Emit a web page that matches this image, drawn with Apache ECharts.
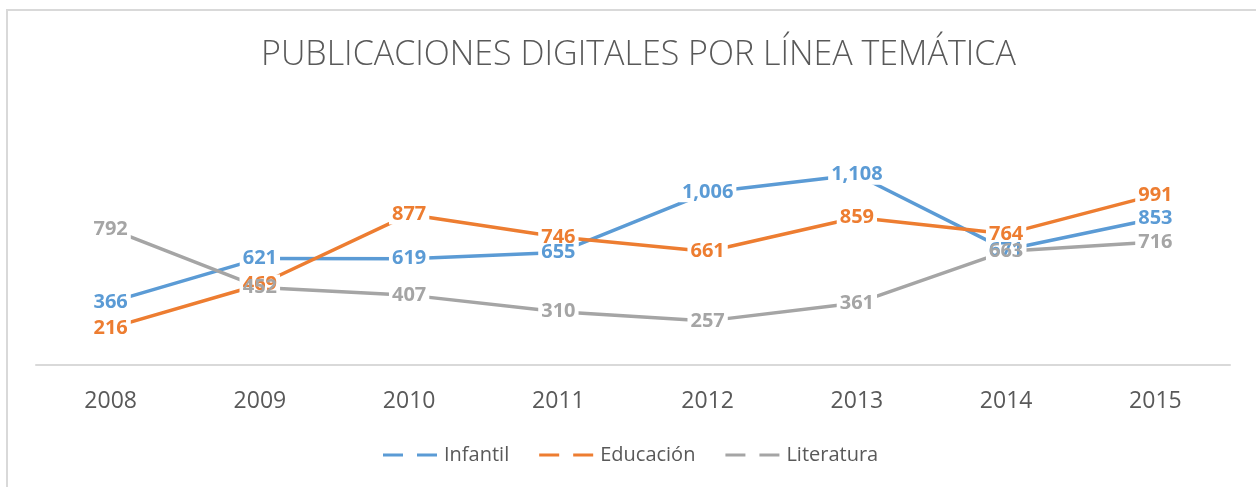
<!DOCTYPE html>
<html>
<head>
<meta charset="utf-8">
<script src="https://cdn.jsdelivr.net/npm/echarts@6/dist/echarts.min.js"></script>
<style>
html,body{margin:0;padding:0;background:#fff;overflow:hidden;}
#frame{position:absolute;left:6px;top:9px;width:1300px;height:600px;border:2px solid #d9d9d9;box-sizing:border-box;}
#chart{position:absolute;left:0;top:0;width:1256px;height:487px;}
</style>
</head>
<body>
<div id="frame"></div>
<div id="chart"></div>
<script>
var titleText = 'PUBLICACIONES DIGITALES POR LÍNEA TEMÁTICA';
var years = ['2008','2009','2010','2011','2012','2013','2014','2015'];
var infantil = [366, 621, 619, 655, 1006, 1108, 671, 853];
var educacion = [216, 469, 877, 746, 661, 859, 764, 991];
var literatura = [792, 452, 407, 310, 257, 361, 663, 716];
var seriesNames = ['Infantil', 'Educación', 'Literatura'];
var colors = ['#5B9BD5', '#ED7D31', '#A5A5A5'];
var seriesData = [infantil, educacion, literatura];

function fmt(v){ return String(v).replace(/\B(?=(\d{3})+(?!\d))/g, ','); }

var labelFont = {fontFamily: 'Open Sans', fontWeight: 'bold', fontSize: 20};

function lineSeries(i){
  return {
    name: seriesNames[i],
    type: 'line',
    data: seriesData[i],
    z: 2,
    symbol: 'none',
    itemStyle: {color: colors[i]},
    lineStyle: {color: colors[i], width: 3.5, cap: 'round'},
    emphasis: {disabled: true},
    label: {show: false}
  };
}
// white boxes behind labels (hide the lines under the text)
function boxSeries(i){
  return {
    name: seriesNames[i] + ' box',
    type: 'line',
    data: seriesData[i],
    z: 3,
    symbol: 'circle',
    symbolSize: 1,
    itemStyle: {color: 'rgba(255,255,255,0)'},
    lineStyle: {width: 0, opacity: 0},
    emphasis: {disabled: true},
    silent: true,
    label: Object.assign({
      show: true,
      position: 'inside',
      formatter: function(p){ return fmt(p.value); },
      color: 'rgba(255,255,255,0)',
      backgroundColor: '#fff',
      padding: [0, 3, 0, 3]
    }, labelFont)
  };
}
function textSeries(i){
  return {
    name: seriesNames[i] + ' text',
    type: 'line',
    data: seriesData[i],
    z: 4,
    symbol: 'circle',
    symbolSize: 1,
    itemStyle: {color: 'rgba(255,255,255,0)'},
    lineStyle: {width: 0, opacity: 0},
    emphasis: {disabled: true},
    silent: true,
    label: Object.assign({
      show: true,
      position: 'inside',
      formatter: function(p){ return fmt(p.value); },
      color: colors[i],
      padding: [0, 3, 0, 3]
    }, labelFont)
  };
}

var series = [0,1,2].map(lineSeries).concat([0,1,2].map(boxSeries)).concat([0,1,2].map(textSeries));

var chart = echarts.init(document.getElementById('chart'), null, {renderer: 'canvas'});
chart.setOption({
  backgroundColor: 'transparent',
  animation: false,
  title: {
    text: titleText,
    left: 256,
    top: 33,
    textStyle: {fontFamily: 'Open Sans', fontWeight: 300, fontSize: 34, color: '#595959'}
  },
  legend: {
    data: seriesNames.map(function(n, i){
      var d = {name: n, itemStyle: {color: colors[i]}};
      if (i === 1) d.textStyle = {width: 104};
      return d;
    }),
    bottom: 17,
    left: 378,
    icon: 'path://M0,0H20V3H0Z M34,0H54V3H34Z',
    itemWidth: 54,
    itemHeight: 3,
    itemGap: 30,
    textStyle: {fontFamily: 'Open Sans', fontSize: 20, color: '#595959', padding: [0,0,0,2]}
  },
  grid: {left: 36, right: 26, top: 159, bottom: 122, containLabel: false},
  xAxis: {
    type: 'category',
    data: years,
    boundaryGap: true,
    axisLine: {lineStyle: {color: '#d9d9d9', width: 2}},
    axisTick: {show: false},
    axisLabel: {fontFamily: 'Open Sans', fontSize: 23, color: '#595959', margin: 25}
  },
  yAxis: {
    type: 'value',
    min: 0,
    max: 1200,
    interval: 200,
    show: false,
    splitLine: {show: false}
  },
  series: series
});
</script>
</body>
</html>
